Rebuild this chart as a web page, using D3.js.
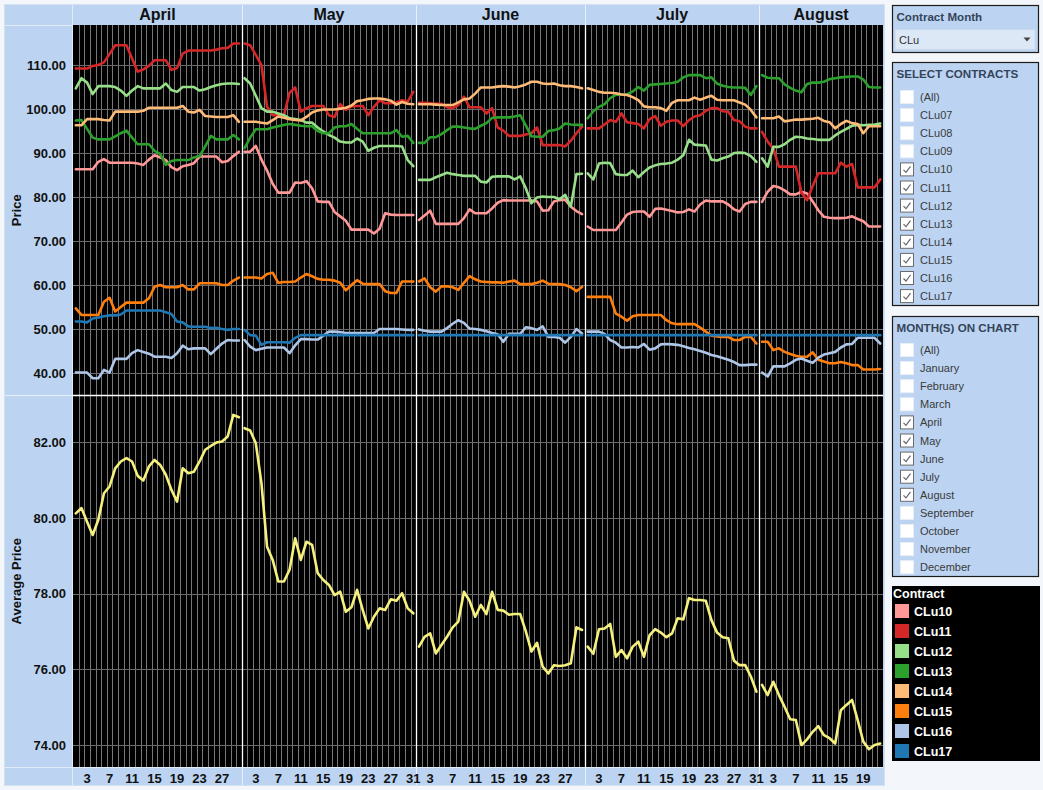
<!DOCTYPE html>
<html><head><meta charset="utf-8">
<script src="https://cdn.jsdelivr.net/npm/d3@7"></script>
<style>
body{margin:0;background:#f3f6fa;font-family:Arial,"Liberation Sans",sans-serif;}
svg{display:block;}
</style></head><body><svg id="c" width="1043" height="790"></svg>
<script>
// ---------------- DATA ----------------
const months = ["April","May","June","July","August"];
const monthDays = [30,31,30,31,22];
const contracts = ["CLu10","CLu11","CLu12","CLu13","CLu14","CLu15","CLu16","CLu17"];
const contractColors = ["#ff9896","#d62728","#98df8a","#2ca02c","#ffbb78","#ff7f0e","#aec7e8","#1f77b4"];
const priceTicks = [40,50,60,70,80,90,100,110];
const avgTicks = [74,76,78,80,82];
const dayTicks = [3,7,11,15,19,23,27,31];
const allContracts = ["(All)","CLu07","CLu08","CLu09","CLu10","CLu11","CLu12","CLu13","CLu14","CLu15","CLu16","CLu17"];
const checkedContracts = ["CLu10","CLu11","CLu12","CLu13","CLu14","CLu15","CLu16","CLu17"];
const allMonths = ["(All)","January","February","March","April","May","June","July","August","September","October","November","December"];
const checkedMonths = ["April","May","June","July","August"];

// price per day, one sub-array per month (April..August)
const CLu10 = [
 [86.3,86.3,86.3,86.3,88.0,88.6,87.8,87.8,87.8,87.8,87.8,87.6,87.3,88.5,89.5,89.0,88.4,86.8,86.1,87.0,87.3,87.7,89.2,89.2,89.2,89.2,87.9,88.2,89.3,90.3],
 [90.3,90.3,91.6,88.5,86.0,83.0,81.0,81.0,81.0,83.3,83.2,83.6,82.0,79.0,78.9,78.9,76.6,75.6,74.6,72.6,72.6,72.6,72.6,71.7,72.8,76.3,76.0,75.9,75.9,75.9,75.9],
 [74.8,75.8,76.9,73.9,73.9,73.9,73.9,73.9,75.2,77.2,76.3,76.3,76.3,77.4,78.7,79.3,79.2,79.2,79.2,79.2,79.2,79.0,76.9,77.0,79.0,79.3,79.4,77.8,76.8,76.1],
 [73.3,72.5,72.5,72.5,72.5,72.5,74.2,76.0,76.6,76.7,76.7,75.5,77.3,77.4,77.1,76.8,76.5,76.6,77.2,76.7,78.3,79.2,79.0,79.0,79.0,78.3,77.2,76.7,78.4,78.9,78.9],
 [78.9,81.2,82.5,82.2,81.5,80.6,80.6,81.2,80.8,79.0,77.0,75.5,75.3,75.2,75.2,75.3,75.6,75.0,74.5,73.3,73.3,73.3]
];
const CLu11 = [
 [109.2,109.2,109.2,109.8,110.0,110.6,112.5,114.5,114.5,114.5,111.5,108.5,109.0,109.8,111.1,111.1,111.1,108.9,109.3,112.6,113.3,113.3,113.3,113.3,113.3,113.5,113.8,113.9,114.9,114.9],
 [114.9,114.5,112.3,110.0,100.5,98.6,98.6,98.6,103.7,104.9,99.4,100.2,100.7,100.7,100.7,98.6,98.2,101.1,99.8,100.6,100.7,100.7,98.6,100.5,102.0,101.3,101.3,101.5,102.0,101.7,103.9],
 [101.4,101.4,101.3,101.2,101.2,100.4,100.2,100.9,102.8,100.4,100.4,100.4,99.0,100.2,95.8,95.1,93.9,93.9,93.9,94.2,94.5,95.8,91.8,91.8,91.8,91.8,91.5,92.8,94.5,96.0],
 [95.6,95.6,95.6,96.5,97.5,97.1,99.0,97.0,96.8,96.6,95.6,97.7,98.4,96.2,97.1,97.4,97.4,96.1,97.5,98.3,98.6,99.6,100.2,100.2,99.5,99.4,97.5,97.2,96.0,95.6,95.6],
 [94.8,92.6,91.0,86.9,86.9,86.9,86.9,81.0,79.3,82.5,85.4,85.4,85.4,85.4,87.8,86.9,87.5,82.2,82.2,82.2,82.2,84.0]
];
const CLu12 = [
 [104.7,107.0,106.0,103.4,105.2,105.2,105.2,105.0,104.2,103.0,104.2,105.2,104.7,104.7,104.7,104.7,105.8,104.3,103.9,105.0,105.0,105.0,104.2,104.5,105.0,105.4,105.7,105.8,105.8,105.7],
 [107.0,105.8,103.0,100.2,99.4,99.4,99.0,98.6,97.9,97.7,97.5,96.9,96.9,95.8,94.9,94.1,93.5,92.6,92.4,92.4,93.3,92.6,90.5,91.2,91.6,91.6,91.6,91.6,91.5,88.4,87.0],
 [83.9,83.9,83.9,84.5,85.0,85.5,85.2,85.0,84.8,84.8,84.8,83.5,83.3,84.6,84.7,84.7,84.7,84.0,84.7,82.0,78.6,79.9,80.1,80.0,80.0,79.5,80.5,77.8,85.2,85.3],
 [85.4,84.0,87.6,87.8,87.7,85.2,85.0,85.0,86.0,84.5,85.7,86.7,87.2,87.5,87.6,87.8,88.5,89.5,93.0,91.9,91.8,91.7,88.5,88.3,88.8,89.2,90.0,90.1,90.0,89.3,88.0],
 [88.8,86.9,91.4,91.4,92.0,93.0,93.7,93.6,93.3,93.2,93.0,93.0,93.0,94.0,94.8,95.5,96.2,96.4,96.3,96.4,96.5,96.7]
];
const CLu13 = [
 [97.4,97.5,95.5,93.5,93.1,93.1,93.1,93.8,94.5,95.1,93.5,92.0,92.0,92.0,90.5,89.8,87.3,88.2,88.4,88.4,88.4,89.0,89.3,91.5,93.9,93.1,93.1,93.1,94.1,93.1],
 [91.1,93.5,95.4,95.4,95.4,95.8,96.1,96.4,96.6,96.4,96.2,96.1,96.1,95.0,94.5,94.5,95.8,96.1,96.1,96.6,95.5,94.5,94.5,94.5,94.5,94.5,94.5,95.2,93.7,93.9,92.3],
 [92.3,92.3,93.6,93.6,94.3,95.2,96.0,96.0,95.8,95.6,95.5,96.2,96.8,98.0,98.1,98.1,98.1,98.3,98.6,96.3,93.8,93.7,93.7,95.0,95.2,95.6,96.7,96.5,96.4,96.4],
 [97.9,99.5,100.5,101.1,102.5,103.2,103.3,103.3,104.0,105.0,104.2,105.5,105.6,105.7,105.8,105.9,106.2,107.2,107.7,107.7,107.7,107.0,107.2,105.8,105.3,105.0,104.9,104.9,104.8,103.2,105.2],
 [107.7,107.1,107.0,107.0,105.6,104.8,104.2,103.8,105.7,106.0,106.0,106.2,106.8,107.0,107.2,107.3,107.4,107.4,106.7,105.0,104.9,104.9]
];
const CLu14 = [
 [96.3,96.3,97.7,97.7,97.7,97.5,97.4,99.4,99.4,99.4,99.4,99.4,99.6,100.3,100.3,100.3,100.3,100.3,100.3,100.7,99.4,99.2,99.8,98.4,98.3,98.2,98.2,98.2,98.6,97.1],
 [97.1,97.1,97.1,96.9,96.7,97.5,98.3,98.0,97.7,97.5,97.4,98.2,99.2,99.7,99.9,99.9,99.9,100.1,100.3,100.8,101.8,102.0,102.3,102.4,102.4,102.2,101.9,101.0,101.6,101.2,101.1],
 [101.1,101.1,101.1,101.0,100.9,100.9,100.9,101.5,102.2,102.4,103.5,104.9,104.9,104.9,105.1,105.2,105.1,104.9,105.2,105.6,106.2,106.2,105.8,105.7,105.8,105.4,105.2,105.2,105.0,104.7],
 [104.7,104.3,103.9,103.7,103.7,103.6,103.3,103.2,102.7,102.0,100.6,100.4,100.4,100.2,99.6,101.4,102.0,102.0,102.0,102.6,102.1,102.6,103.0,102.1,102.0,102.0,102.0,101.5,101.0,99.8,98.1],
 [97.9,97.9,97.9,98.3,97.2,97.4,97.6,97.6,97.7,97.8,98.0,97.3,97.0,95.6,96.6,97.3,96.8,96.6,94.5,96.1,96.1,96.1]
];
const CLu15 = [
 [54.7,53.2,53.2,53.2,53.2,56.2,57.1,54.0,55.0,56.0,56.0,56.0,56.0,57.0,59.6,60.0,59.5,59.5,59.5,60.0,59.0,59.0,60.4,60.4,60.4,60.4,60.0,60.0,61.0,61.7],
 [61.7,61.7,61.7,61.5,62.5,62.8,60.5,60.7,60.7,60.8,61.7,62.5,62.0,61.4,61.2,61.2,61.0,60.5,58.8,60.0,61.1,60.3,60.2,60.2,60.2,58.6,58.2,58.2,60.8,60.8,60.8],
 [60.8,61.5,59.5,58.5,59.7,59.7,59.5,58.9,60.5,62.0,61.3,60.8,60.7,60.6,60.6,60.5,60.8,61.0,60.2,60.2,60.2,60.5,61.0,60.3,60.2,60.2,60.0,59.5,58.6,59.6],
 [57.3,57.3,57.3,57.3,57.3,53.5,52.8,51.9,52.9,53.2,53.2,53.2,53.2,53.2,52.0,51.3,51.1,51.1,51.1,51.1,50.3,49.4,48.5,48.3,48.2,48.2,47.5,47.5,48.2,48.2,46.7],
 [47.1,47.1,45.2,45.6,44.8,44.3,43.9,43.7,43.7,44.7,43.0,42.6,42.2,42.2,42.5,42.2,41.8,41.8,40.8,40.8,40.8,40.9]
];
const CLu16 = [
 [40.1,40.1,40.1,38.8,38.8,40.7,40.1,43.2,43.2,43.2,44.5,45.2,44.8,44.4,43.7,43.7,43.7,43.4,44.5,46.2,45.4,45.6,45.6,45.6,44.3,45.5,46.7,47.5,47.4,47.4],
 [47.5,46.0,45.2,45.5,45.8,45.8,45.8,45.8,44.5,46.3,47.7,47.7,47.6,47.6,48.5,49.4,49.4,49.3,49.1,49.1,49.1,49.1,49.1,49.1,50.0,50.0,50.0,50.0,49.9,49.8,49.8],
 [49.9,49.6,49.4,49.4,49.4,50.2,51.2,52.0,51.4,50.1,50.0,49.8,49.5,49.1,48.8,47.1,48.9,48.9,48.9,50.4,50.2,49.8,50.6,48.2,48.2,48.0,46.9,48.2,50.0,49.0],
 [49.4,49.4,49.4,48.9,47.5,46.9,45.8,45.8,45.9,45.8,46.6,45.3,45.6,46.5,46.6,46.5,46.4,46.1,45.7,45.4,45.0,44.6,44.1,43.8,43.4,43.0,42.5,41.8,41.8,41.9,41.9],
 [40.1,39.2,41.5,41.5,41.5,42.2,43.0,43.3,42.8,42.3,43.5,44.2,44.5,44.8,45.8,46.5,46.6,48.0,48.0,48.0,48.0,46.7]
];
const CLu17 = [
 [51.7,51.7,51.5,52.4,52.6,52.9,53.1,53.1,53.3,54.2,54.2,54.2,54.2,54.2,54.2,54.2,53.8,53.4,51.7,51.5,50.6,50.5,50.5,50.5,50.2,50.3,50.0,49.8,50.0,50.0],
 [49.8,48.6,48.5,46.4,47.0,47.0,47.0,47.0,46.9,48.0,48.6,48.6,48.6,48.6,48.6,48.6,48.6,48.6,48.6,48.6,48.6,48.6,48.6,48.6,48.6,48.6,48.6,48.6,48.6,48.6,48.6],
 [48.6,48.6,48.6,48.6,48.6,48.6,48.6,48.6,48.6,48.6,48.6,48.6,48.6,48.6,48.6,48.6,48.6,48.6,48.6,48.6,48.6,48.6,48.6,48.6,48.6,48.6,48.6,48.6,48.6,48.6],
 [48.6,48.6,48.6,48.6,48.6,48.6,48.6,48.6,48.6,48.6,48.6,48.6,48.6,48.6,48.6,48.6,48.6,48.6,48.6,48.6,48.6,48.6,48.6,48.6,48.6,48.6,48.6,48.6,48.6,48.6,48.6],
 [48.6,48.6,48.6,48.6,48.6,48.6,48.6,48.6,48.6,48.6,48.6,48.6,48.6,48.6,48.6,48.6,48.6,48.6,48.6,48.6,48.6,48.6]
];
const averagePrice = [
 [80.12,80.26,79.9,79.55,79.95,80.65,80.83,81.31,81.49,81.58,81.49,81.11,80.99,81.36,81.53,81.4,81.14,80.74,80.43,81.31,81.18,81.22,81.49,81.8,81.9,81.99,82.02,82.15,82.72,82.66],
 [82.37,82.31,81.97,80.92,79.24,78.89,78.32,78.32,78.63,79.46,78.89,79.37,79.29,78.54,78.36,78.23,77.96,78.05,77.52,77.64,78.1,77.57,77.08,77.39,77.61,77.57,77.85,77.81,78.01,77.61,77.48],
 [76.6,76.86,76.95,76.42,76.64,76.86,77.11,77.26,78.05,77.81,77.39,77.7,77.46,78.05,77.57,77.55,77.44,77.46,77.46,77.0,76.47,76.7,76.07,75.89,76.11,76.09,76.11,76.16,77.11,77.04],
 [76.6,76.41,77.06,77.08,77.2,76.33,76.51,76.29,76.6,76.73,76.33,76.9,77.06,76.97,76.85,76.95,77.35,77.32,77.88,77.83,77.83,77.81,77.3,76.97,76.85,76.82,76.23,76.11,76.11,75.81,75.41],
 [75.59,75.32,75.67,75.32,75.01,74.68,74.66,74.0,74.15,74.35,74.5,74.26,74.18,74.04,74.92,75.06,75.19,74.66,74.09,73.89,74.0,74.04]
];
const seriesData = [CLu10,CLu11,CLu12,CLu13,CLu14,CLu15,CLu16,CLu17];

// ---------------- DRAW ----------------
const svg = d3.select("#c");
const FONT = "Arial, 'Liberation Sans', sans-serif";
const L = 73, R = 883, T = 25, MID = 395.5, B = 767;
const lightBlue = "#bcd4f2";

svg.append("rect").attr("width",1043).attr("height",790).attr("fill","#f3f6fa");
svg.append("rect").attr("x",4.5).attr("y",4.5).attr("width",880).attr("height",781)
  .attr("fill",lightBlue).attr("stroke","#d3e0ef");

const keys = [];
months.forEach((m,i)=>{ for(let d=1; d<=monthDays[i]; d++) keys.push(m+"-"+d); });
const x = d3.scaleBand().domain(keys).range([L,R]).padding(0);
const bw = x.bandwidth();
const cx = (mi,d) => x(months[mi]+"-"+d) + bw/2;
const yTop = d3.scaleLinear().domain([35,119.1]).range([MID-0.5, T]);
const yBot = d3.scaleLinear().domain([73.42,83.22]).range([B, MID+0.5]);

// light separator lines in frame
svg.append("line").attr("x1",5).attr("x2",R).attr("y1",T+0.5).attr("y2",T+0.5).attr("stroke","#e2ebf6");
svg.append("line").attr("x1",L-0.5).attr("x2",L-0.5).attr("y1",5).attr("y2",785).attr("stroke","#e2ebf6");
svg.append("line").attr("x1",5).attr("x2",R).attr("y1",B+0.5).attr("y2",B+0.5).attr("stroke","#e2ebf6");

// plot background
svg.append("rect").attr("x",L).attr("y",T).attr("width",R-L).attr("height",B-T).attr("fill","#000");

// day gridlines
const grid = svg.append("g");
keys.forEach((k,i)=>{
  const d = +k.split("-")[1];
  if (d===1) return;
  const xx = Math.round(x(k))+0.5;
  grid.append("line").attr("x1",xx).attr("x2",xx).attr("y1",T).attr("y2",B)
    .attr("stroke","#777777").attr("stroke-width",1);
});
// horizontal gridlines
priceTicks.forEach(v=>{
  const yy = Math.round(yTop(v))+0.5;
  grid.append("line").attr("x1",L).attr("x2",R).attr("y1",yy).attr("y2",yy).attr("stroke","#6a6a6a");
});
avgTicks.forEach(v=>{
  const yy = Math.round(yBot(v))+0.5;
  grid.append("line").attr("x1",L).attr("x2",R).attr("y1",yy).attr("y2",yy).attr("stroke","#6a6a6a");
});

// month separators
months.forEach((m,i)=>{
  if(i===0) return;
  const xx = Math.round(x(m+"-1"))+0.5;
  svg.append("line").attr("x1",xx).attr("x2",xx).attr("y1",5).attr("y2",T).attr("stroke","#e8f0fa");
  svg.append("line").attr("x1",xx).attr("x2",xx).attr("y1",T).attr("y2",B).attr("stroke","#ffffff").attr("stroke-width",1.3);
  svg.append("line").attr("x1",xx).attr("x2",xx).attr("y1",B).attr("y2",785).attr("stroke","#e8f0fa");
});
// panel separator
svg.append("line").attr("x1",5).attr("x2",L).attr("y1",MID).attr("y2",MID).attr("stroke","#e8f0fa");
svg.append("line").attr("x1",L).attr("x2",R).attr("y1",MID).attr("y2",MID).attr("stroke","#ffffff").attr("stroke-width",1.3);

// month headers
months.forEach((m,i)=>{
  const x0 = x(m+"-1"), x1 = x(m+"-"+monthDays[i]) + bw;
  svg.append("text").attr("x",(x0+x1)/2).attr("y",20).attr("text-anchor","middle")
    .attr("font-family",FONT).attr("font-weight","bold").attr("font-size",16).attr("fill","#111").text(m);
});

// lines
const line = d3.line().x(p=>p[0]).y(p=>p[1]);
seriesData.forEach((ser,si)=>{
  ser.forEach((arr,mi)=>{
    const pts = arr.map((v,j)=>[cx(mi,j+1), yTop(v)]);
    svg.append("path").attr("d",line(pts)).attr("fill","none")
      .attr("stroke",contractColors[si]).attr("stroke-width",2.6)
      .attr("stroke-linejoin","round").attr("stroke-linecap","round");
  });
});
averagePrice.forEach((arr,mi)=>{
  const pts = arr.map((v,j)=>[cx(mi,j+1), yBot(v)]);
  svg.append("path").attr("d",line(pts)).attr("fill","none")
    .attr("stroke","#f6f17e").attr("stroke-width",2.6)
    .attr("stroke-linejoin","round").attr("stroke-linecap","round");
});

// axes
function styleAxis(g){
  g.select(".domain").remove();
  g.selectAll("text").attr("font-family",FONT).attr("font-weight","bold").attr("font-size",13).attr("fill","#111");
}
svg.append("g").attr("transform",`translate(${L},0)`)
  .call(d3.axisLeft(yTop).tickValues(priceTicks).tickFormat(d3.format(".2f")).tickSize(0).tickPadding(7))
  .call(styleAxis);
svg.append("g").attr("transform",`translate(${L},0)`)
  .call(d3.axisLeft(yBot).tickValues(avgTicks).tickFormat(d3.format(".2f")).tickSize(0).tickPadding(7))
  .call(styleAxis);
const xTickKeys = [];
months.forEach((m,i)=>dayTicks.forEach(d=>{ if(d<=monthDays[i]) xTickKeys.push(m+"-"+d); }));
svg.append("g").attr("transform",`translate(0,${B})`)
  .call(d3.axisBottom(x).tickValues(xTickKeys).tickFormat(k=>k.split("-")[1]).tickSize(0).tickPadding(7))
  .call(styleAxis);

// axis titles
svg.append("text").attr("transform",`translate(21,${(T+MID)/2}) rotate(-90)`).attr("text-anchor","middle")
  .attr("font-family",FONT).attr("font-weight","bold").attr("font-size",13).attr("fill","#111").text("Price");
svg.append("text").attr("transform",`translate(21,${(MID+B)/2}) rotate(-90)`).attr("text-anchor","middle")
  .attr("font-family",FONT).attr("font-weight","bold").attr("font-size",13).attr("fill","#111").text("Average Price");

// ---------------- RIGHT PANELS ----------------
const PX = 892.5, PW = 146;
const titleColor = "#34445a";
function panel(y,h,title){
  svg.append("rect").attr("x",PX).attr("y",y).attr("width",PW).attr("height",h)
    .attr("fill",lightBlue).attr("stroke","#1c1c1c").attr("stroke-width",1.2);
  svg.append("text").attr("x",PX+4).attr("y",y+15).attr("font-family",FONT).attr("font-weight","bold")
    .attr("font-size",11.6).attr("fill",titleColor).text(title);
}
panel(5.5,47,"Contract Month");
svg.append("rect").attr("x",895).attr("y",29.5).attr("width",140).attr("height",20).attr("fill","#dde8f7").attr("stroke","#c9d8ec");
svg.append("text").attr("x",899).attr("y",43.5).attr("font-family",FONT).attr("font-size",11).attr("fill","#333").text("CLu");
svg.append("path").attr("d","M1023.5,37.5 L1030.5,37.5 L1027,41.5 Z").attr("fill","#444");

function checklist(y0, items, checked){
  items.forEach((it,i)=>{
    const cy = y0 + i*18.1;
    const on = checked.includes(it);
    svg.append("rect").attr("x",900.5).attr("y",cy-6.5).attr("width",13).attr("height",13)
      .attr("fill","#ffffff").attr("stroke", on ? "#6b6b6b" : "#e9eef5").attr("stroke-width",1);
    if(on){
      svg.append("path").attr("d",`M903.5,${cy+0.5} L906,${cy+3} L910.5,${cy-3}`)
        .attr("fill","none").attr("stroke","#666").attr("stroke-width",1.2);
    }
    svg.append("text").attr("x",920).attr("y",cy+4).attr("font-family",FONT).attr("font-size",11)
      .attr("fill","#3a3a3a").text(it);
  });
}
panel(62.5,243,"SELECT CONTRACTS");
checklist(97, allContracts, checkedContracts);
panel(316.5,260,"MONTH(S) ON CHART");
checklist(350, allMonths, checkedMonths);

// legend
svg.append("rect").attr("x",892).attr("y",586).attr("width",148).attr("height",175).attr("fill","#000");
svg.append("text").attr("x",893).attr("y",598).attr("font-family",FONT).attr("font-weight","bold")
  .attr("font-size",12.5).attr("fill","#fff").text("Contract");
contracts.forEach((c,i)=>{
  const yy = 604 + i*20;
  svg.append("rect").attr("x",895).attr("y",yy).attr("width",14).attr("height",14).attr("fill",contractColors[i]);
  svg.append("text").attr("x",914).attr("y",yy+11.5).attr("font-family",FONT).attr("font-weight","bold")
    .attr("font-size",12.5).attr("fill","#fff").text(c);
});
</script></body></html>
